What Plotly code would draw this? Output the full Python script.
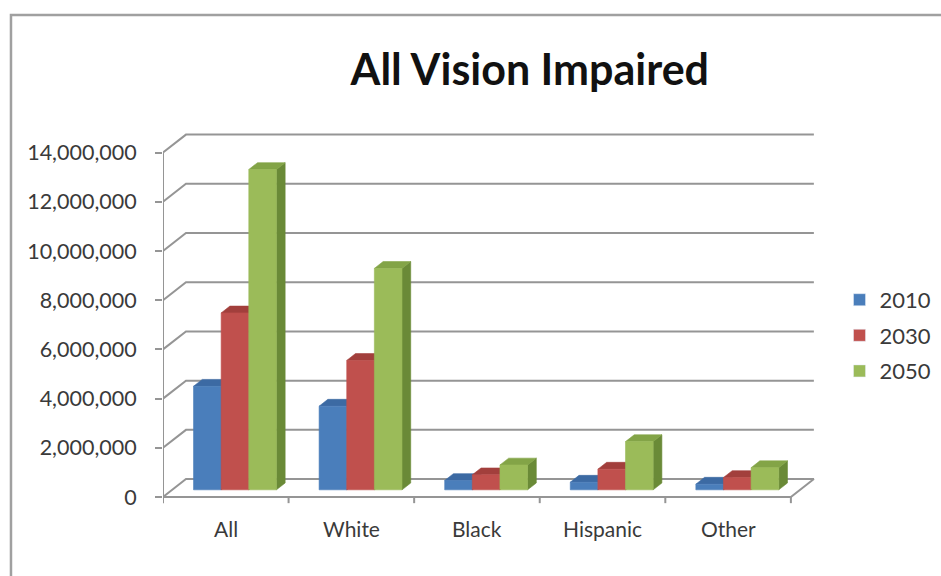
import plotly.graph_objects as go

# Projected number of people with vision impairment, by group and year
categories = ["All", "White", "Black", "Hispanic", "Other"]
years = ["2010", "2030", "2050"]
vals_2010 = [4_210_000, 3_400_000, 380_000, 310_000, 230_000]
vals_2030 = [7_190_000, 5_260_000, 610_000, 840_000, 500_000]
vals_2050 = [13_020_000, 9_000_000, 1_010_000, 1_960_000, 900_000]
y_ticks = [0, 2_000_000, 4_000_000, 6_000_000, 8_000_000, 10_000_000, 12_000_000, 14_000_000]

series = [vals_2010, vals_2030, vals_2050]
face_colors = [
    # front, top, side
    ("#4a7ebb", "#3c6aa3", "#2f5587"),
    ("#c0504d", "#a23f3c", "#8a3330"),
    ("#9bbb59", "#83a447", "#6a8a37"),
]

# Oblique projection of the depth axis (x units, value units)
DX = 0.183
DY = 730_000
F0 = 0.40      # depth fraction where the column fronts sit
FB = 0.38      # depth of each column as a fraction of the floor depth
BAR_W = 0.22
GRID = "#959595"
TEXT = "#3a3a3a"

n = len(categories)
x_left, x_right = -0.5, n - 0.5

fig = go.Figure()

# back-wall gridlines with their diagonal links to the value axis
for v in y_ticks:
    if v == 0:
        xs = [x_left, x_right, x_right + DX, x_left + DX, x_left]
        ys = [0, 0, DY, DY, 0]
    else:
        xs = [x_left, x_left + DX, x_right + DX]
        ys = [v, v + DY, v + DY]
    fig.add_trace(go.Scatter(x=xs, y=ys, mode="lines",
                             line=dict(color=GRID, width=2),
                             hoverinfo="skip", showlegend=False))

# value axis line and the category tick marks along the floor edge
fig.add_trace(go.Scatter(x=[x_left, x_left], y=[0, y_ticks[-1]], mode="lines",
                         line=dict(color=GRID, width=2),
                         hoverinfo="skip", showlegend=False))
tx, ty = [], []
for k in range(n + 1):
    tx += [x_left + k, x_left + k, None]
    ty += [0, -250_000, None]
fig.add_trace(go.Scatter(x=tx, y=ty, mode="lines",
                         line=dict(color=GRID, width=2),
                         hoverinfo="skip", showlegend=False))

# 3-D columns: side, top and front faces for every series
base = F0 * DY
for j, vals in enumerate(series):
    front_c, top_c, side_c = face_colors[j]
    fx, fy, tpx, tpy, sx, sy = [], [], [], [], [], []
    for i, v in enumerate(vals):
        x0 = i + F0 * DX - 1.5 * BAR_W + j * BAR_W
        x1 = x0 + BAR_W
        ex, ey = FB * DX, FB * DY
        top = base + v
        fx += [x0, x1, x1, x0, x0, None]
        fy += [base, base, top, top, base, None]
        tpx += [x0, x1, x1 + ex, x0 + ex, x0, None]
        tpy += [top, top, top + ey, top + ey, top, None]
        sx += [x1, x1 + ex, x1 + ex, x1, x1, None]
        sy += [base, base + ey, top + ey, top, base, None]
    for xs, ys, c in ((sx, sy, side_c), (tpx, tpy, top_c), (fx, fy, front_c)):
        fig.add_trace(go.Scatter(x=xs, y=ys, mode="lines", fill="toself",
                                 fillcolor=c, line=dict(color=c, width=0.6),
                                 hoverinfo="skip", showlegend=False))

# legend entries
for j, yr in enumerate(years):
    fig.add_trace(go.Bar(x=[None], y=[None], name=yr, legendgroup=yr,
                         marker=dict(color=face_colors[j][0])))

# category labels under the floor
for i, c in enumerate(categories):
    fig.add_annotation(x=i, y=-0.063, xref="x", yref="paper", text=c,
                       showarrow=False, yanchor="middle",
                       font=dict(family="Lato", size=21, color=TEXT))

# chart frame
fig.add_shape(type="path", xref="paper", yref="paper",
              path="M 1.25 1.2895 L -0.2328 1.2895 L -0.2328 -0.3",
              line=dict(color="#a0a0a0", width=2.5))

fig.update_layout(
    width=941, height=576,
    margin=dict(l=163, r=125, t=125, b=71, autoexpand=False),
    paper_bgcolor="white", plot_bgcolor="white",
    title=dict(text="<b>All Vision Impaired</b>", x=0.563, y=0.878,
               xanchor="center", yanchor="middle",
               font=dict(family="Lato", size=43, color="#111111")),
    xaxis=dict(type="linear", range=[x_left, x_right + 0.2], showgrid=False,
               zeroline=False, showticklabels=False, ticks="", showline=False),
    yaxis=dict(range=[-325_000, 15_120_000], showgrid=False, zeroline=False,
               tickvals=y_ticks, tickformat=",d", ticks="outside", ticklen=7,
               tickcolor=GRID, tickwidth=2, ticklabelstandoff=14,
               tickfont=dict(family="Lato", size=21.5, color=TEXT)),
    legend=dict(x=1.036, y=0.595, xanchor="left", yanchor="top",
                tracegroupgap=4, traceorder="grouped",
                font=dict(family="Lato", size=22, color=TEXT)),
    showlegend=True,
)

fig.write_html("out.html")
